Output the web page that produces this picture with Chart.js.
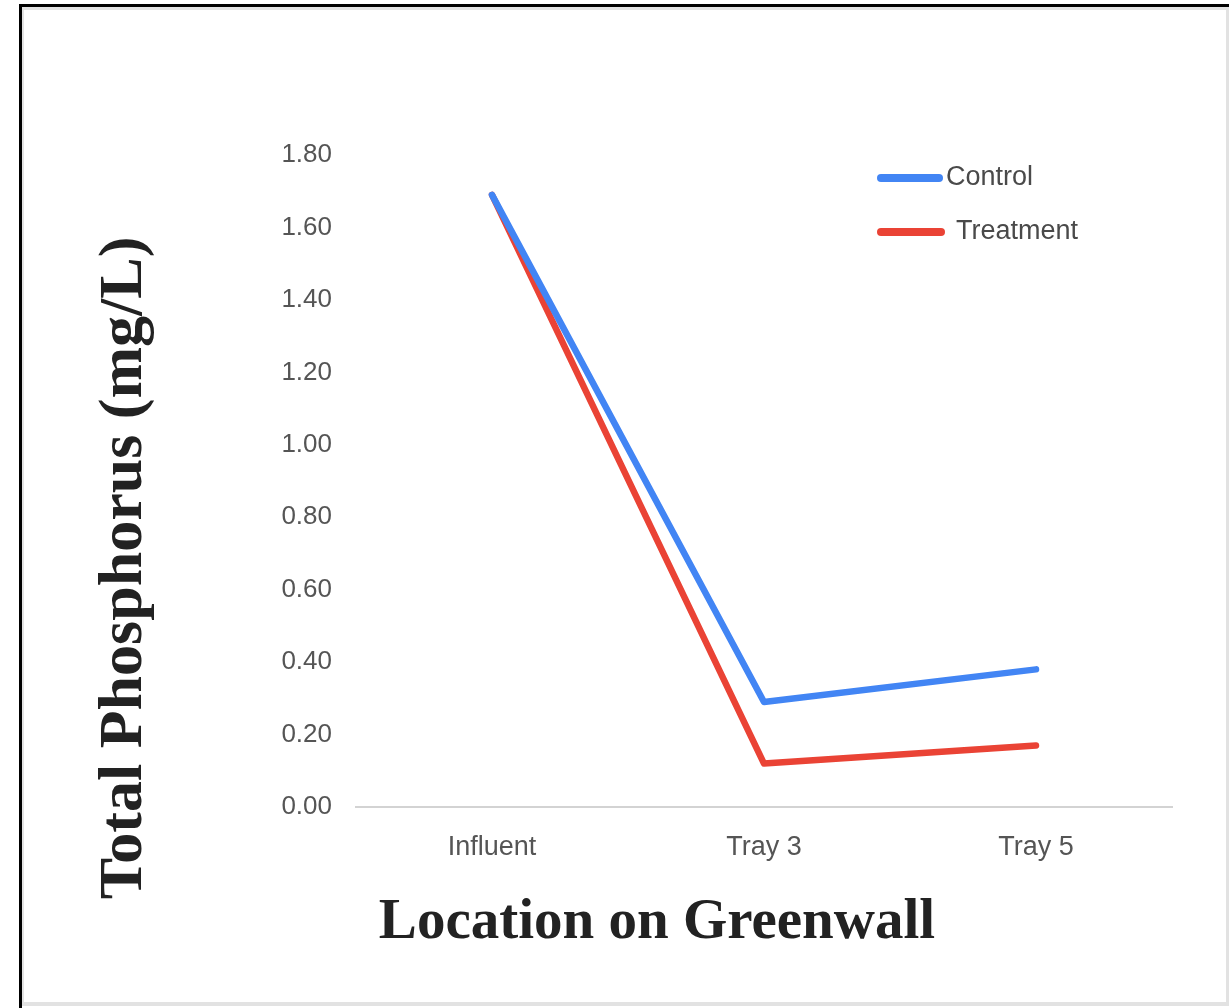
<!DOCTYPE html>
<html>
<head>
<meta charset="utf-8">
<script src="https://cdn.jsdelivr.net/npm/chart.js@4/dist/chart.umd.min.js"></script>
<style>
  html, body { margin: 0; padding: 0; background: #fff; }
  body { width: 1229px; height: 1008px; position: relative; overflow: hidden; }
  #outer { position: absolute; left: 19px; top: 4px; width: 1210px; height: 1004px;
           border-top: 3px solid #000; border-left: 3px solid #000; box-sizing: border-box; }
  #inner { position: absolute; left: 22px; top: 7px; width: 1207px; height: 999px;
           border-top: 3px solid #e2e2e2; border-left: 2px solid #e2e2e2;
           border-right: 3px solid #e2e2e2; border-bottom: 4px solid #e2e2e2; box-sizing: border-box; }
  #wrap { position: absolute; left: 0; top: 0; width: 1229px; height: 1008px; }
</style>
</head>
<body>
<div id="outer"></div>
<div id="inner"></div>
<div id="wrap"><canvas id="c" width="1229" height="1008"></canvas></div>
<script>
const categories = ["Influent", "Tray 3", "Tray 5"];
const seriesNames = ["Control", "Treatment"];
const controlValues = [1.69, 0.29, 0.38];
const treatmentValues = [1.69, 0.12, 0.17];
const yTicks = [0, 0.2, 0.4, 0.6, 0.8, 1.0, 1.2, 1.4, 1.6, 1.8];
const yTitle = "Total Phosphorus (mg/L)";
const xTitle = "Location on Greenwall";

const BLUE = "#4285F4";
const RED = "#EA4335";

const customDecor = {
  id: "customDecor",
  afterDraw(chart, args, opts) {
    const ctx = chart.ctx;
    ctx.save();
    // axis titles
    ctx.fillStyle = "#222";
    ctx.font = "bold 57px 'Liberation Serif', 'Times New Roman', serif";
    ctx.textAlign = "center";
    ctx.textBaseline = "alphabetic";
    ctx.fillText(xTitle, 657, 938);
    ctx.save();
    ctx.translate(141, 568);
    ctx.rotate(-Math.PI / 2);
    ctx.font = "bold 62px 'Liberation Serif', 'Times New Roman', serif";
    ctx.fillText(yTitle, 0, 0);
    ctx.restore();
    // legend
    const items = chart.data.datasets.map((d, i) => ({ label: d.label, color: d.borderColor }));
    const rows = [
      { y: 178, x0: 881, x1: 939, tx: 946 },
      { y: 232, x0: 881, x1: 941, tx: 956 }
    ];
    ctx.font = "27px 'Liberation Sans', Arial, sans-serif";
    ctx.textAlign = "left";
    ctx.textBaseline = "middle";
    items.forEach((it, i) => {
      const r = rows[i];
      ctx.strokeStyle = it.color;
      ctx.lineWidth = 8;
      ctx.lineCap = "round";
      ctx.beginPath();
      ctx.moveTo(r.x0, r.y);
      ctx.lineTo(r.x1, r.y);
      ctx.stroke();
      ctx.fillStyle = "#4a4a4a";
      ctx.fillText(it.label, r.tx, r.y);
    });
    ctx.restore();
  }
};

new Chart(document.getElementById("c"), {
  type: "line",
  data: {
    labels: categories,
    datasets: [
      { label: seriesNames[0], data: controlValues, borderColor: BLUE, backgroundColor: BLUE,
        borderWidth: 6.5, pointRadius: 0, tension: 0, borderCapStyle: "round", borderJoinStyle: "round" },
      { label: seriesNames[1], data: treatmentValues, borderColor: RED, backgroundColor: RED,
        borderWidth: 6.5, pointRadius: 0, tension: 0, borderCapStyle: "round", borderJoinStyle: "round" }
    ]
  },
  options: {
    responsive: false,
    animation: false,
    devicePixelRatio: 1,
    layout: { padding: { left: 250, right: 57, top: 155, bottom: 141 } },
    plugins: { legend: { display: false }, tooltip: { enabled: false }, title: { display: false } },
    scales: {
      x: {
        offset: true,
        grid: { display: false, drawTicks: false },
        border: { display: true, color: "#d3d3d3", width: 2 },
        ticks: { color: "#555", padding: 24, font: { family: "'Liberation Sans', Arial, sans-serif", size: 27 } },
        afterFit(scale) { scale.height = 60; }
      },
      y: {
        min: 0, max: 1.8,
        grid: { display: false, drawTicks: false },
        border: { display: false },
        afterBuildTicks(scale) { scale.ticks = yTicks.map(v => ({ value: v })); },
        ticks: {
          color: "#555", padding: 24,
          font: { family: "'Liberation Sans', Arial, sans-serif", size: 26 },
          callback: (v) => Number(v).toFixed(2)
        },
        afterFit(scale) { scale.width = 106; }
      }
    }
  },
  plugins: [customDecor]
});
</script>
</body>
</html>
